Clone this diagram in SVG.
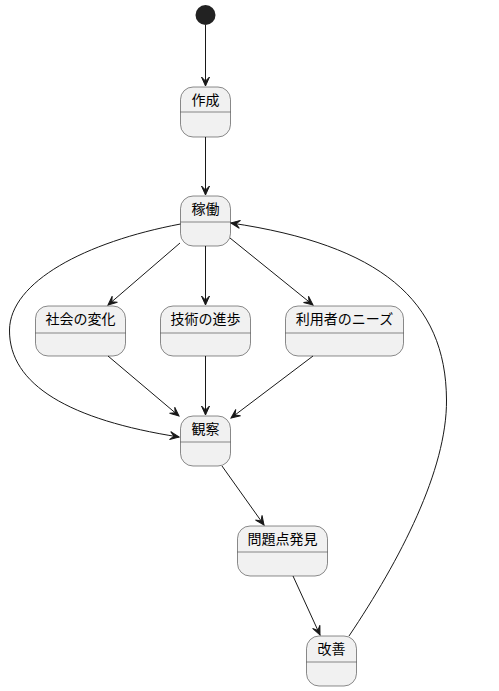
<svg xmlns="http://www.w3.org/2000/svg" width="499" height="691" viewBox="0 0 499 691">
<style>
.st rect{fill:#F1F1F1;stroke:#181818;stroke-width:0.5}
.st line{stroke:#181818;stroke-width:0.5}
.st text{font-family:"Noto Sans CJK JP","Noto Sans",sans-serif;font-size:14px;fill:#000;text-anchor:middle}
.ed path,.ed line{stroke:#181818;stroke-width:1;fill:none;marker-end:url(#ah)}
</style>
<defs>
<marker id="ah" markerUnits="userSpaceOnUse" viewBox="-10 -5 11 10" refX="0" refY="0" markerWidth="11" markerHeight="10" orient="auto">
<path d="M0,0 L-9,-4 L-5,0 L-9,4 Z" fill="#181818" stroke="#181818" stroke-width="1"/>
</marker>
</defs>
<rect width="499" height="691" fill="#FFFFFF"/>
<g id="start"><circle cx="205.5" cy="15" r="10" fill="#222222"/></g>
<g id="sakusei" class="st"><rect x="180.5" y="87" width="50" height="50" rx="12.5"/><line x1="180.5" y1="112" x2="230.5" y2="112"/><text x="205.5" y="105">作成</text></g>
<g id="kado" class="st"><rect x="180.5" y="196" width="50" height="50" rx="12.5"/><line x1="180.5" y1="222" x2="230.5" y2="222"/><text x="205.5" y="214">稼働</text></g>
<g id="shakai" class="st"><rect x="35.5" y="306" width="90" height="50" rx="12.5"/><line x1="35.5" y1="333" x2="125.5" y2="333"/><text x="80.5" y="324">社会の変化</text></g>
<g id="gijutsu" class="st"><rect x="160.5" y="306" width="90" height="50" rx="12.5"/><line x1="160.5" y1="333" x2="250.5" y2="333"/><text x="205.5" y="324">技術の進歩</text></g>
<g id="riyousha" class="st"><rect x="285.5" y="306" width="118" height="50" rx="12.5"/><line x1="285.5" y1="333" x2="403.5" y2="333"/><text x="344.5" y="324">利用者のニーズ</text></g>
<g id="kansatsu" class="st"><rect x="180.5" y="416" width="50" height="50" rx="12.5"/><line x1="180.5" y1="442" x2="230.5" y2="442"/><text x="205.5" y="434">観察</text></g>
<g id="mondai" class="st"><rect x="237.5" y="526" width="90" height="50" rx="12.5"/><line x1="237.5" y1="552" x2="327.5" y2="552"/><text x="282.5" y="544">問題点発見</text></g>
<g id="kaizen" class="st"><rect x="306.5" y="636" width="50" height="50" rx="12.5"/><line x1="306.5" y1="662" x2="356.5" y2="662"/><text x="331.5" y="654">改善</text></g>
<g id="edges" class="ed">
<line x1="205.5" y1="25" x2="205.5" y2="86"/>
<line x1="205.5" y1="137" x2="205.5" y2="195"/>
<line x1="180" y1="243" x2="108" y2="305"/>
<line x1="205.5" y1="246" x2="205.5" y2="305"/>
<line x1="230" y1="238" x2="313" y2="305"/>
<path d="M180.5,224 C85,242 10,282 9.5,330 C9,385 70,420 179,437"/>
<line x1="108" y1="356" x2="179" y2="416"/>
<line x1="205.5" y1="356" x2="205.5" y2="415"/>
<line x1="313" y1="356" x2="231" y2="418"/>
<line x1="222" y1="466" x2="264" y2="525"/>
<line x1="293" y1="576" x2="320" y2="635"/>
<path d="M349,636 C400,560 447,470 446.5,400 C446,300 380,245 231,223"/>
</g>
</svg>
